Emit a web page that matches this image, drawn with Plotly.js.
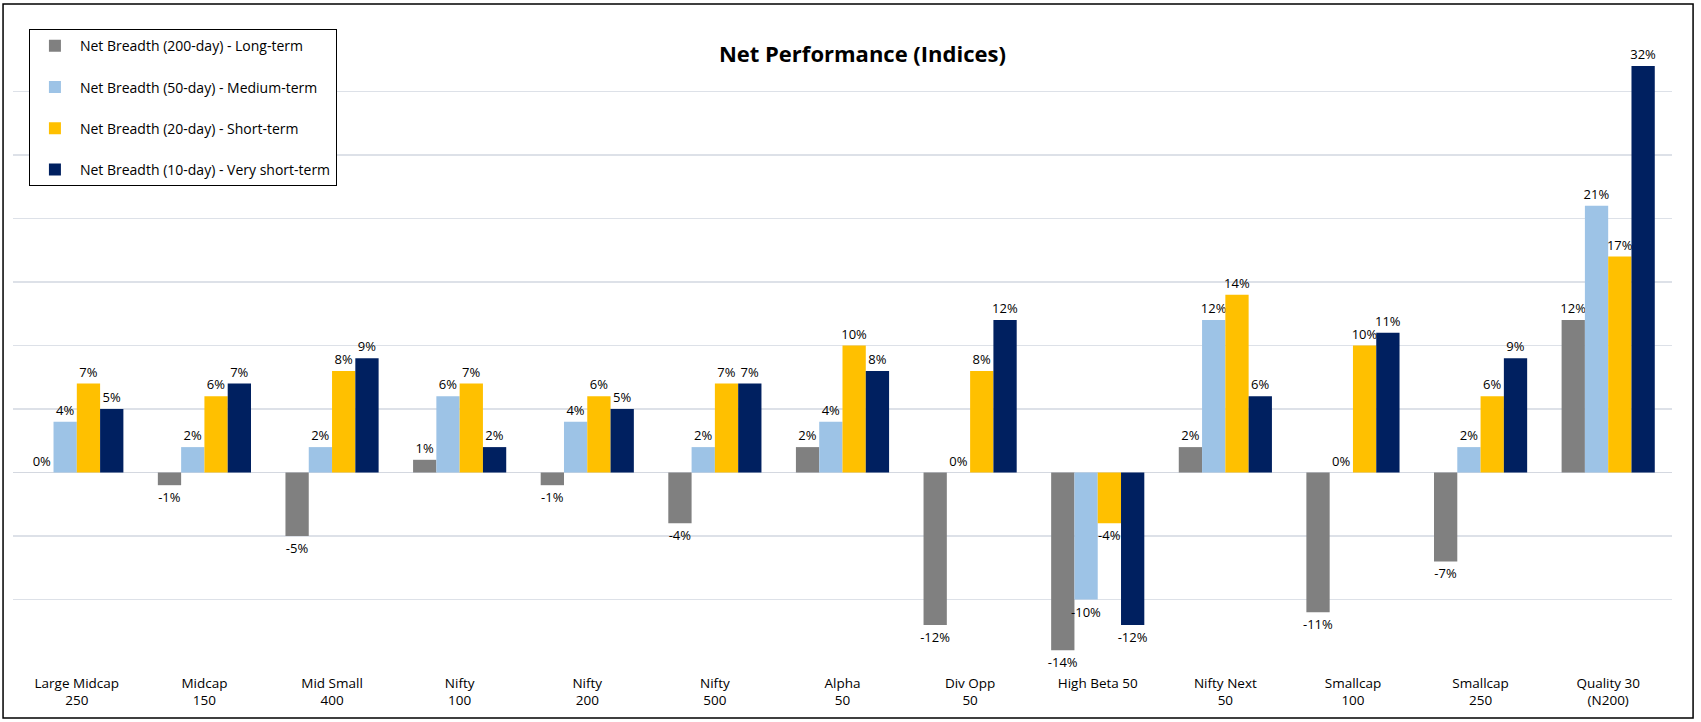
<!DOCTYPE html>
<html>
<head>
<meta charset="utf-8">
<script src="https://cdn.plot.ly/plotly-3.0.1.min.js"></script>
<style>
  html, body { margin: 0; padding: 0; background: #fff; }
  #chart { width: 1701px; height: 722px; }
</style>
</head>
<body>
<div id="chart"></div>
<script>
// categories (index names, two-line labels as in the original)
const indices = [
    'Large Midcap<br>250', 'Midcap<br>150', 'Mid Small<br>400', 'Nifty<br>100',
    'Nifty<br>200', 'Nifty<br>500', 'Alpha<br>50', 'Div Opp<br>50',
    'High Beta 50', 'Nifty Next<br>50', 'Smallcap<br>100', 'Smallcap<br>250',
    'Quality 30<br>(N200)'
];

// net breadth, percent
const breadth200 = [0, -1, -5, 1, -1, -4, 2, -12, -14, 2, -11, -7, 12];
const breadth50  = [4, 2, 2, 6, 4, 2, 4, 0, -10, 12, 0, 2, 21];
const breadth20  = [7, 6, 8, 7, 6, 7, 10, 8, -4, 14, 10, 6, 17];
const breadth10  = [5, 7, 9, 2, 5, 7, 8, 12, -12, 6, 11, 9, 32];

const seriesNames = [
    'Net Breadth (200-day) - Long-term',
    'Net Breadth (50-day) - Medium-term',
    'Net Breadth (20-day) - Short-term',
    'Net Breadth (10-day) - Very short-term'
];
const colorBrew = ['#808080', '#9dc3e6', '#ffc000', '#002060'];

let FONT = '"Open Sans", "Noto Sans", sans-serif';

let dataDraw = [breadth200, breadth50, breadth20, breadth10].map((vals, i) => ({
    type: 'bar',
    x: indices,
    y: vals,
    name: seriesNames[i],
    legendgroup: 'g' + i,
    marker: { color: colorBrew[i] },
    texttemplate: '%{y:.0f}%',
    textposition: 'outside',
    constraintext: 'none',
    textfont: { family: FONT, size: 13, color: '#000' },
    cliponaxis: false,
    hoverinfo: 'x+y'
}));

let layout = {
    width: 1701,
    height: 722,
    autosize: false,
    margin: { l: 13, r: 29, t: 28, b: 59 },
    paper_bgcolor: '#fff',
    plot_bgcolor: '#fff',
    font: { family: FONT, color: '#000' },
    title: {
        text: '<b>Net Performance (Indices)</b>',
        font: { family: FONT, size: 22, color: '#000' },
        x: 0.507, xanchor: 'center',
        y: 0.925, yanchor: 'middle'
    },
    barmode: 'group',
    bargap: 0.27,
    bargroupgap: 0,
    xaxis: {
        type: 'category',
        showline: false,
        showgrid: false,
        ticks: '',
        ticklabelstandoff: 10,
        tickfont: { family: FONT, size: 13.5, color: '#000' }
    },
    yaxis: {
        range: [-15, 35],
        dtick: 5,
        showticklabels: false,
        showline: false,
        ticks: '',
        gridcolor: '#dde1e8',
        gridwidth: 1.5,
        zeroline: true,
        zerolinecolor: '#d4d8e0',
        zerolinewidth: 1.5
    },
    showlegend: true,
    legend: {
        x: 0.0096, xanchor: 'left',
        y: 0.998, yanchor: 'top',
        bgcolor: '#fff',
        bordercolor: '#000',
        borderwidth: 1,
        traceorder: 'grouped',
        tracegroupgap: 20,
        entrywidth: 312,
        itemwidth: 40,
        font: { family: FONT, size: 14, color: '#000' }
    },
    shapes: [{
        type: 'rect', xref: 'paper', yref: 'paper',
        x0: -0.006, x1: 1.0127, y0: -0.0866, y1: 1.0378,
        line: { color: '#000', width: 1.5 },
        fillcolor: 'rgba(0,0,0,0)',
        layer: 'above'
    }]
};

Plotly.newPlot('chart', dataDraw, layout, { displayModeBar: false, staticPlot: true });
</script>
</body>
</html>
